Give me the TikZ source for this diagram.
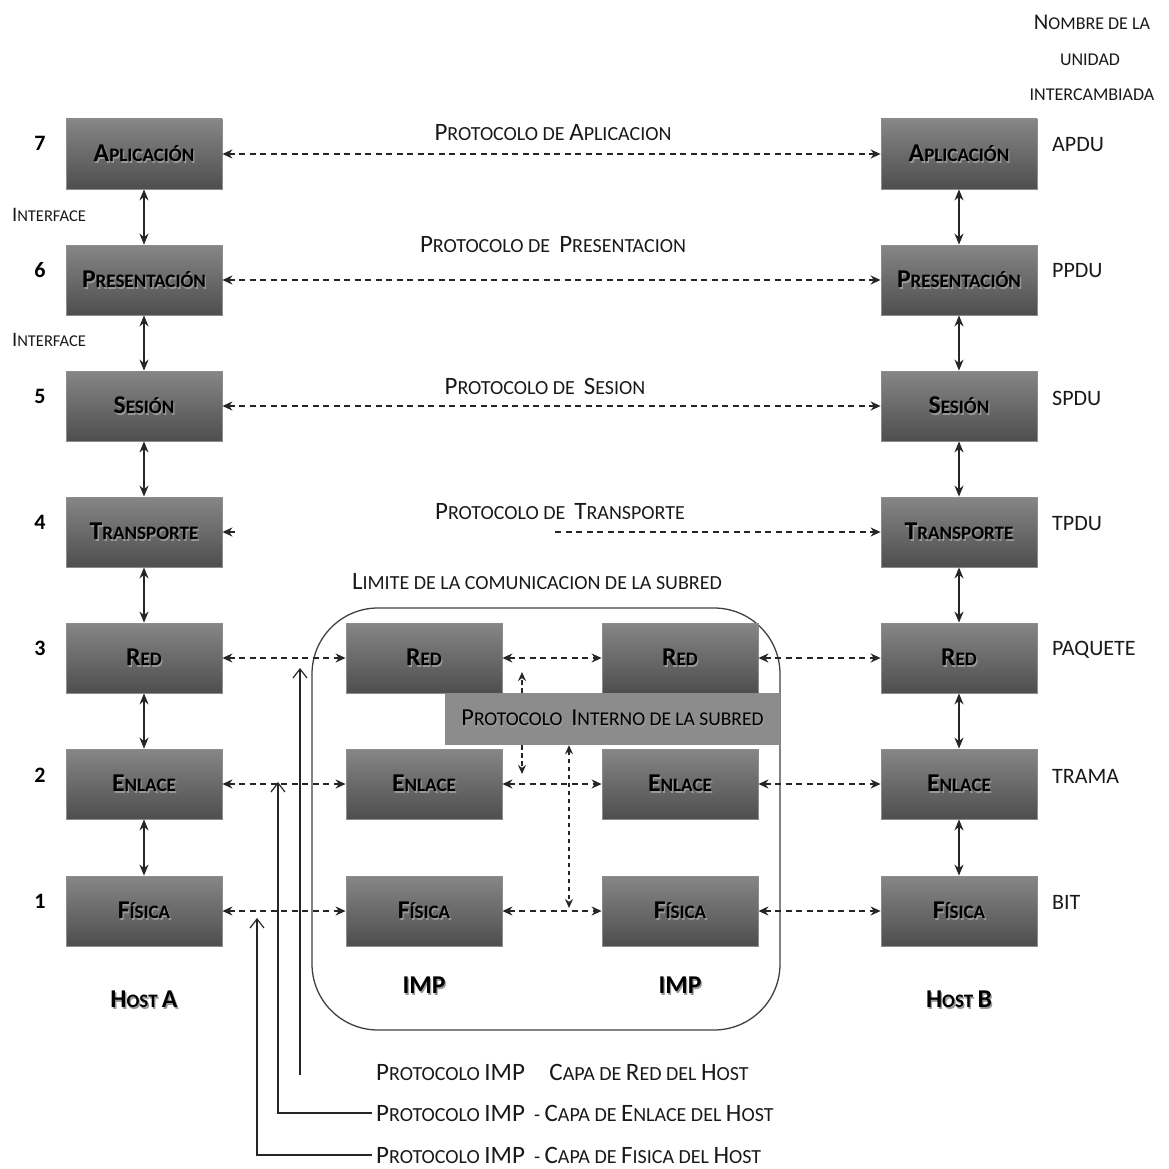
\documentclass[tikz,border=0pt]{standalone}
\usepackage{fontspec}
\usepackage{graphicx}
\setmainfont{Carlito}
\usetikzlibrary{arrows.meta}
\definecolor{boxtop}{HTML}{868686}
\definecolor{boxbot}{HTML}{4E4E4E}
\definecolor{lnc}{HTML}{262626}
\definecolor{ipfill}{HTML}{8C8C8C}
\newcommand\bg[1]{\scalebox{1.35}{#1}}
\newcommand\bgs[1]{\scalebox{1.25}{#1}}
\newcommand\shd[1]{\leavevmode\rlap{\hspace{1.3pt}\raisebox{-1.8pt}{\textcolor{black!40}{#1}}}#1}
\tikzset{
  layer/.style={rectangle, minimum width=156pt, minimum height=70pt, inner sep=0pt,
    top color=boxtop, bottom color=boxbot, draw=black!45, line width=0.8pt,
    font=\bfseries\fontsize{19}{21}\selectfont},
  proto/.style={draw=lnc, line width=1.8pt, dash pattern=on 6pt off 4.5pt,
    {Stealth[length=10pt,width=9pt]}-{Stealth[length=10pt,width=9pt]}},
  protoL/.style={draw=lnc, line width=1.8pt, dash pattern=on 6pt off 4.5pt,
    {Stealth[length=10pt,width=9pt]}-},
  protoR/.style={draw=lnc, line width=1.8pt, dash pattern=on 6pt off 4.5pt,
    -{Stealth[length=10pt,width=9pt]}},
  vert/.style={draw=lnc, line width=1.6pt,
    {Stealth[length=11pt,width=9pt]}-{Stealth[length=11pt,width=9pt]}},
  small/.style={draw=lnc, line width=1.5pt, dash pattern=on 4.5pt off 3.5pt},
  lead/.style={draw=lnc, line width=2pt},
  barb/.style={-{Straight Barb[length=9pt,width=14pt,line width=1.2pt]}},
  plabel/.style={font=\fontsize{20}{22}\selectfont, text=black!90, inner sep=0pt},
  blabel/.style={font=\fontsize{20}{22}\selectfont, text=black!90, anchor=west, inner sep=4pt},
  numl/.style={font=\bfseries\fontsize{22}{24}\selectfont},
  unitl/.style={font=\fontsize{22}{24}\selectfont, text=black!90, anchor=west, inner sep=0pt},
  hostl/.style={font=\bfseries\fontsize{19}{21}\selectfont},
  toplab/.style={font=\fontsize{18}{20}\selectfont, text=black!90},
}
\begin{document}
\begin{tikzpicture}[x=1pt,y=-1pt]
\useasboundingbox (0,0) rectangle (1168,1169);
% subnet boundary
\node[draw=black!75, line width=1.3pt, rounded corners=66pt, minimum width=468pt, minimum height=422pt, inner sep=0pt] (sub) at (546,819) {};
% Host A
\node[layer] (aA) at (144,154) {\shd{\bg{A}PLICACIÓN}};
\node[layer] (pA) at (144,280) {\shd{\bg{P}RESENTACIÓN}};
\node[layer] (sA) at (144,406) {\shd{\bg{S}ESIÓN}};
\node[layer] (tA) at (144,532) {\shd{\bg{T}RANSPORTE}};
\node[layer] (rA) at (144,658) {\shd{\bg{R}ED}};
\node[layer] (eA) at (144,784) {\shd{\bg{E}NLACE}};
\node[layer] (fA) at (144,911) {\shd{\bg{F}ÍSICA}};
% Host B
\node[layer] (aB) at (959,154) {\shd{\bg{A}PLICACIÓN}};
\node[layer] (pB) at (959,280) {\shd{\bg{P}RESENTACIÓN}};
\node[layer] (sB) at (959,406) {\shd{\bg{S}ESIÓN}};
\node[layer] (tB) at (959,532) {\shd{\bg{T}RANSPORTE}};
\node[layer] (rB) at (959,658) {\shd{\bg{R}ED}};
\node[layer] (eB) at (959,784) {\shd{\bg{E}NLACE}};
\node[layer] (fB) at (959,911) {\shd{\bg{F}ÍSICA}};
% IMPs
\node[layer] (r1) at (424,658) {\shd{\bg{R}ED}};
\node[layer] (e1) at (424,784) {\shd{\bg{E}NLACE}};
\node[layer] (f1) at (424,911) {\shd{\bg{F}ÍSICA}};
\node[layer] (r2) at (680,658) {\shd{\bg{R}ED}};
\node[layer] (e2) at (680,784) {\shd{\bg{E}NLACE}};
\node[layer] (f2) at (680,911) {\shd{\bg{F}ÍSICA}};
% internal protocol box
\node[rectangle, fill=ipfill, minimum width=335pt, minimum height=52pt, inner sep=0pt,
  font=\fontsize{19.5}{21}\selectfont] (ip) at (612.5,719) {\shd{\bgs{P}ROTOCOLO\ \ \bgs{I}NTERNO DE LA SUBRED}};
% vertical interfaces
\foreach \u/\v in {aA/pA,pA/sA,sA/tA,tA/rA,rA/eA,eA/fA,aB/pB,pB/sB,sB/tB,tB/rB,rB/eB,eB/fB}
  \draw[vert] (\u) -- (\v);
% peer protocols
\draw[proto] (aA) -- (aB);
\draw[proto] (pA) -- (pB);
\draw[proto] (sA) -- (sB);
\coordinate (t4l) at (236,532);
\coordinate (t4r) at (555,532);
\draw[protoL] (tA) -- (t4l);
\draw[protoR] (t4r) -- (tB);
\draw[proto] (rA) -- (r1);
\draw[proto] (r1) -- (r2);
\draw[proto] (r2) -- (rB);
\draw[proto] (eA) -- (e1);
\draw[proto] (e1) -- (e2);
\draw[proto] (e2) -- (eB);
\draw[proto] (fA) -- (f1);
\draw[proto] (f1) -- (f2);
\draw[proto] (f2) -- (fB);
% small dashed arrows around internal protocol
\coordinate (u1) at (522,672);
\coordinate (u2) at (522,774);
\coordinate (v1) at (569,908);
\draw[small, -{Stealth[length=9pt,width=8pt]}] (u1 |- ip.north) -- (u1);
\draw[small, -{Stealth[length=9pt,width=8pt]}] (u2 |- ip.south) -- (u2);
\draw[small, {Stealth[length=9pt,width=8pt]}-{Stealth[length=9pt,width=8pt]}] (v1 |- ip.south) -- (v1);
% labels
\node[plabel] (lp7) at (553,133) {\bgs{P}ROTOCOLO DE \bgs{A}PLICACION};
\node[plabel] (lp6) at (553,245) {\bgs{P}ROTOCOLO DE\ \ \bgs{P}RESENTACION};
\node[plabel] (lp5) at (545,386) {\bgs{P}ROTOCOLO DE\ \ \bgs{S}ESION};
\node[plabel] (lp4) at (560,512) {\bgs{P}ROTOCOLO DE\ \ \bgs{T}RANSPORTE};
\node[plabel] (lim) at (537,582) {\bgs{L}IMITE DE LA COMUNICACION DE LA SUBRED};
% layer numbers
\node[numl] (n7) at (40,143) {7};
\node[numl] (n6) at (40,270) {6};
\node[numl] (n5) at (40,396) {5};
\node[numl] (n4) at (40,522) {4};
\node[numl] (n3) at (40,648) {3};
\node[numl] (n2) at (40,775) {2};
\node[numl] (n1) at (40,901) {1};
\node[font=\fontsize{16.5}{18}\selectfont, text=black!90] (if1) at (49,215) {\bgs{I}NTERFACE};
\node[font=\fontsize{16.5}{18}\selectfont, text=black!90] (if2) at (49,340) {\bgs{I}NTERFACE};
% unit names
\node[toplab] (h1) at (1092,22) {\bgs{N}OMBRE DE LA};
\node[toplab] (h2) at (1090,60) {UNIDAD};
\node[toplab] (h3) at (1092,95) {INTERCAMBIADA};
\node[unitl] (u7) at (1052,145) {APDU};
\node[unitl] (u6) at (1052,271) {PPDU};
\node[unitl] (u5) at (1052,398) {SPDU};
\node[unitl] (u4) at (1052,524) {TPDU};
\node[unitl] (u3) at (1052,650) {PAQUETE};
\node[unitl] (u2l) at (1052,776) {TRAMA};
\node[unitl] (u1l) at (1052,902) {BIT};
% hosts / IMPs
\node[hostl] (hA) at (144,1000) {\shd{\bg{H}OST \bg{A}}};
\node[hostl] (hB) at (959,1000) {\shd{\bg{H}OST \bg{B}}};
\node[hostl] (i1) at (424,986) {\shd{\bg{IMP}}};
\node[hostl] (i2) at (680,986) {\shd{\bg{IMP}}};
% bottom legend
\node[blabel] (b1) at (372,1072) {\bgs{P}ROTOCOLO \bgs{IMP}\quad\ \bgs{C}APA DE \bgs{R}ED DEL \bgs{H}OST};
\node[blabel] (b2) at (372,1113) {\bgs{P}ROTOCOLO \bgs{IMP}\ \ - \bgs{C}APA DE \bgs{E}NLACE DEL \bgs{H}OST};
\node[blabel] (b3) at (372,1155) {\bgs{P}ROTOCOLO \bgs{IMP}\ \ - \bgs{C}APA DE \bgs{F}ISICA DEL \bgs{H}OST};
\coordinate (lr0) at (300,1075);
\coordinate (lr1) at (300,668);
\coordinate (le1) at (278,782);
\coordinate (lf1) at (257,918);
\draw[lead, barb] (lr0) -- (lr1);
\draw[lead, barb] (b2.west) -| (le1);
\draw[lead, barb] (b3.west) -| (lf1);
\end{tikzpicture}
\end{document}
